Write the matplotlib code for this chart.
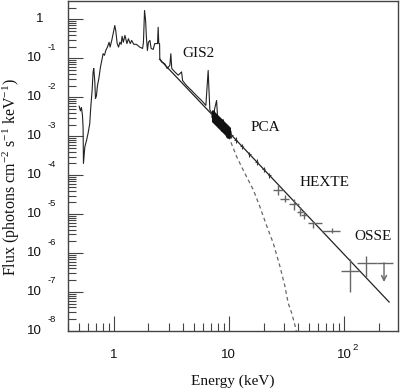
import matplotlib
matplotlib.use('Agg')
import matplotlib.pyplot as plt
from matplotlib.ticker import FixedLocator, NullFormatter, LogLocator

# ---- GIS2 spectrum (keV, photons cm^-2 s^-1 keV^-1)
gis_E = [0.50, 0.513, 0.523, 0.534, 0.541, 0.543, 0.545, 0.56, 0.58, 0.598,
         0.618, 0.631, 0.648, 0.661, 0.67, 0.684, 0.693, 0.707, 0.721, 0.741,
         0.766, 0.792, 0.807, 0.83, 0.852, 0.881, 0.91, 0.929, 0.96, 0.987,
         1.02, 1.04, 1.07, 1.10, 1.13, 1.16, 1.18, 1.21, 1.25, 1.30,
         1.34, 1.39, 1.43, 1.49, 1.57, 1.68, 1.78, 1.81, 1.85, 1.89,
         1.92, 1.96, 2.00, 2.06, 2.11, 2.20, 2.27, 2.40, 2.43, 2.46,
         2.50, 2.51, 2.60, 2.77, 2.91, 3.07, 3.13, 3.19, 3.39, 3.63,
         3.88, 3.96, 4.29, 4.74, 5.24, 5.79, 6.31, 6.61, 6.70, 6.84,
         7.31, 7.82, 7.98, 8.92, 9.55]
gis_F = [5.9e-3, 4.5e-3, 5.5e-3, 3.5e-3, 1.7e-3, 5.3e-4, 2.0e-4, 5.3e-4, 7.9e-4, 1.2e-3,
         2.1e-3, 5.6e-3, 1.5e-2, 4.5e-2, 5.5e-2, 2.5e-2, 9.3e-3, 1.1e-2, 2.0e-2, 3.0e-2,
         6.0e-2, 9.8e-2, 0.132, 0.12, 0.16, 0.195, 0.26, 0.195, 0.29, 0.43,
         0.70, 0.52, 0.24, 0.195, 0.26, 0.23, 0.37, 0.26, 0.39, 0.24,
         0.32, 0.24, 0.29, 0.23, 0.23, 0.195, 0.18, 0.26, 1.70, 0.94,
         0.35, 0.16, 0.26, 0.29, 0.18, 0.17, 0.24, 0.24, 0.63, 0.24,
         0.24, 0.10, 0.081, 0.073, 0.055, 0.066, 0.132, 0.055, 0.045, 0.037,
         0.045, 0.027, 0.020, 0.015, 0.011, 8.3e-3, 6.2e-3, 0.049, 0.018, 4.7e-3,
         3.5e-3, 8.3e-3, 3.1e-3, 2.1e-3, 1.3e-3]

# ---- total model (solid)
model_E = [2.5, 10.0, 100.0, 247.0]
model_F = [0.095, 1.26e-3, 9.3e-7, 5.5e-8]

# ---- soft component (dashed)
soft_E = [8.5, 10.0, 11.7, 13.8, 16.3, 18.6, 21.3, 24.3, 27.8, 30.7, 32.8, 35.1, 37.5, 39.5]
soft_F = [2.0e-3, 9.5e-4, 2.95e-4, 1.1e-4, 4.2e-5, 1.55e-5, 5.0e-6, 1.8e-6, 4.5e-7,
          1.4e-7, 5.1e-8, 2.9e-8, 1.4e-8, 7e-9]

# ---- PCA points: dense block and sparse tail
pca_E = [7.3, 7.45, 7.6, 7.75, 7.9, 8.05, 8.2, 8.35, 8.5, 8.65, 8.8, 8.95, 9.1, 9.25,
         9.4, 9.55, 9.7, 9.85, 10.0]
pca_F = [3.4e-3, 3.15e-3, 2.95e-3, 2.75e-3, 2.6e-3, 2.45e-3, 2.3e-3, 2.2e-3, 2.1e-3,
         2.0e-3, 1.9e-3, 1.8e-3, 1.7e-3, 1.6e-3, 1.5e-3, 1.45e-3, 1.38e-3, 1.32e-3, 1.26e-3]
pca_tail_E = [10.5, 11.5, 13.0, 15.0, 17.5, 20.0, 22.5]
pca_tail_F = [1.08e-3, 8.1e-4, 5.5e-4, 3.5e-4, 2.2e-4, 1.45e-4, 1.0e-4]

# ---- HEXTE points
hexte_E = [26.8, 30.7, 37.0, 41.4, 44.9, 54.1, 78.2]
hexte_Elo = [24.3, 27.8, 33.4, 39.0, 42.0, 49.0, 64.0]
hexte_Ehi = [29.5, 33.4, 40.9, 44.0, 48.0, 64.0, 92.0]
hexte_F = [4.1e-5, 2.5e-5, 1.86e-5, 1.15e-5, 9.3e-6, 5.75e-6, 3.7e-6]
hexte_Flo = [3.1e-5, 2.1e-5, 1.26e-5, 8.9e-6, 7.5e-6, 4.3e-6, 3.2e-6]
hexte_Fhi = [5.5e-5, 3.1e-5, 2.5e-5, 1.5e-5, 1.2e-5, 6.8e-6, 4.4e-6]

# ---- OSSE points
osse_E = [113.0, 155.0]
osse_Elo = [93.5, 129.0]
osse_Ehi = [136.0, 192.0]
osse_F = [3.55e-7, 5.5e-7]
osse_Flo = [1.02e-7, 2.45e-7]
osse_Fhi = [6.9e-7, 8.3e-7]

# ---- OSSE upper limit
ul_E = [223.0]
ul_Elo = [192.0]
ul_Ehi = [265.0]
ul_F = [5.6e-7]
ul_Fto = [1.8e-7]

# ---- tick labels: (value, mantissa, exponent)
xtick_vals = [1, 10, 100]
xtick_mant = ['1', '10', '10']
xtick_exp = ['', '', '2']
ytick_vals = [1, 1e-1, 1e-2, 1e-3, 1e-4, 1e-5, 1e-6, 1e-7, 1e-8]
ytick_mant = ['1'] + ['10'] * 8
ytick_exp = [''] + ['-%d' % k for k in range(1, 9)]

plt.rcParams['font.family'] = ['Liberation Sans', 'DejaVu Sans']

fig = plt.figure(figsize=(4.0, 3.92), dpi=100)
ax = fig.add_axes([0.17, 0.156, 0.825, 0.841])
ax.set_xscale('log')
ax.set_yscale('log')
ax.set_xlim(0.4, 295)
ax.set_ylim(1e-8, 2.95)

dark = '#222222'
grey = '#666666'

ax.plot(gis_E, gis_F, color=dark, lw=0.8)
ax.plot(model_E, model_F, color=dark, lw=0.9)
ax.plot(soft_E, soft_F, color=grey, lw=0.9, ls=(0, (3, 2.5)))

ax.errorbar(pca_E, pca_F,
            yerr=[[f * 0.3 for f in pca_F], [f * 0.35 for f in pca_F]],
            xerr=[[e * 0.04 for e in pca_E], [e * 0.04 for e in pca_E]],
            fmt='none', ecolor='#111111', elinewidth=2.2, capsize=0)
ax.errorbar(pca_tail_E, pca_tail_F,
            yerr=[[f * 0.15 for f in pca_tail_F], [f * 0.15 for f in pca_tail_F]],
            xerr=[[e * 0.03 for e in pca_tail_E], [e * 0.03 for e in pca_tail_E]],
            fmt='none', ecolor='#333333', elinewidth=0.8, capsize=0)

ax.errorbar(hexte_E, hexte_F,
            xerr=[[e - lo for e, lo in zip(hexte_E, hexte_Elo)], [hi - e for e, hi in zip(hexte_E, hexte_Ehi)]],
            yerr=[[f - lo for f, lo in zip(hexte_F, hexte_Flo)], [hi - f for f, hi in zip(hexte_F, hexte_Fhi)]],
            fmt='none', ecolor=grey, elinewidth=1.0, capsize=0)
ax.errorbar(osse_E, osse_F,
            xerr=[[e - lo for e, lo in zip(osse_E, osse_Elo)], [hi - e for e, hi in zip(osse_E, osse_Ehi)]],
            yerr=[[f - lo for f, lo in zip(osse_F, osse_Flo)], [hi - f for f, hi in zip(osse_F, osse_Fhi)]],
            fmt='none', ecolor=grey, elinewidth=1.0, capsize=0)
ax.errorbar(ul_E, ul_F,
            xerr=[[e - lo for e, lo in zip(ul_E, ul_Elo)], [hi - e for e, hi in zip(ul_E, ul_Ehi)]],
            fmt='none', ecolor=grey, elinewidth=1.0, capsize=0)
for e, f0, f1 in zip(ul_E, ul_F, ul_Fto):
    ax.annotate('', xy=(e, f1), xytext=(e, f0),
                arrowprops=dict(arrowstyle='->', color=grey, lw=1.0, shrinkA=0, shrinkB=0,
                                mutation_scale=9))

serif = ['Liberation Serif', 'DejaVu Serif']
txt = dict(family=serif, fontsize=11, ha='center', va='center', color='#111')
ax.text(5.48, 0.134, 'GIS2', **txt)
ax.text(20.6, 1.7e-3, 'PCA', **txt)
ax.text(68.4, 6.6e-5, 'HEXTE', **txt)
ax.text(179, 2.6e-6, 'OSSE', **txt)

# ticks
ax.xaxis.set_major_locator(FixedLocator(xtick_vals))
ax.yaxis.set_major_locator(FixedLocator(ytick_vals))
ax.xaxis.set_minor_locator(LogLocator(base=10, subs=range(2, 10), numticks=20))
ax.yaxis.set_minor_locator(LogLocator(base=10, subs=range(2, 10), numticks=20))
ax.xaxis.set_major_formatter(NullFormatter())
ax.yaxis.set_major_formatter(NullFormatter())
ax.xaxis.set_minor_formatter(NullFormatter())
ax.yaxis.set_minor_formatter(NullFormatter())
ax.tick_params(which='both', direction='in', top=False, right=False, color='#444', width=0.8)
ax.tick_params(which='major', length=10.8)
ax.tick_params(which='minor', length=5.8)

lab = dict(fontsize=9.5, color='#111', family=['Liberation Sans', 'DejaVu Sans'])
sup = dict(fontsize=6.8, color='#111', family=['Liberation Sans', 'DejaVu Sans'])
for v, m, ex in zip(ytick_vals, ytick_mant, ytick_exp):
    dx = -18.0 if m == '1' else -18.7
    ax.annotate(m, xy=(0, v), xycoords=('axes fraction', 'data'), xytext=(dx, 0),
                textcoords='offset points', ha='right', va='center', **lab)
    if ex:
        ax.annotate(ex, xy=(0, v), xycoords=('axes fraction', 'data'), xytext=(-14.8, 7.9),
                    textcoords='offset points', ha='left', va='center', **sup)
for v, m, ex in zip(xtick_vals, xtick_mant, xtick_exp):
    ax.annotate(m, xy=(v, 0), xycoords=('data', 'axes fraction'), xytext=(0, -17.3),
                textcoords='offset points', ha='center', va='center', **lab)
    if ex:
        ax.annotate(ex, xy=(v, 0), xycoords=('data', 'axes fraction'), xytext=(6.3, -11.9),
                    textcoords='offset points', ha='left', va='center', **sup)

for s in ax.spines.values():
    s.set_color('#444')
    s.set_linewidth(1.0)

ax.set_xlabel('Energy (keV)', family=serif, fontsize=11, color='#111')
ax.xaxis.set_label_coords(0.5, -0.133)
ax.set_ylabel(r'Flux (photons cm$\mathregular{^{-2}}$ s$\mathregular{^{-1}}$ keV$\mathregular{^{-1}}$)',
              family=serif, fontsize=11.5, color='#111')
ax.yaxis.set_label_coords(-0.139, 0.467)

fig.savefig('out.png', dpi=100)
